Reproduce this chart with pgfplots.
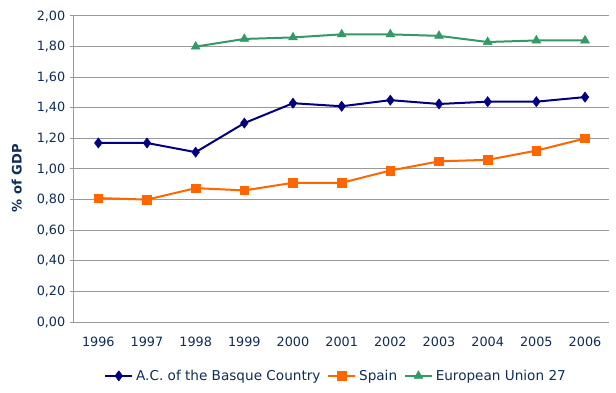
\documentclass[border=0pt]{standalone}
\usepackage{pgfplots}
\pgfplotsset{compat=1.18}
\usepackage{fontspec}
\setmainfont{DejaVu Sans}
\definecolor{txt}{HTML}{0F2D5A}
\definecolor{basque}{HTML}{000080}
\definecolor{spain}{HTML}{FF6600}
\definecolor{eu}{HTML}{339966}
\definecolor{gridc}{HTML}{999999}
\begin{document}
\begin{tikzpicture}
\begin{axis}[
  name=ax,
  scale only axis,
  width=401.5pt, height=229.5pt,
  xmin=-0.5, xmax=10.5,
  ymin=0, ymax=2,
  ytick={0,0.2,...,2.01},
  xtick={0,...,10},
  xticklabels={1996,1997,1998,1999,2000,2001,2002,2003,2004,2005,2006},
  x tick style={draw=none},
  extra x ticks={-0.5,0.5,...,10.6},
  extra x tick labels={},
  extra x tick style={major tick length=3pt, tick style={draw=gridc, line width=0.75pt}, grid=none},
  tick align=outside,
  major tick length=3pt,
  y tick style={draw=gridc, line width=0.75pt},
  axis x line*=bottom, axis y line*=left,
  axis line style={draw=gridc, line width=0.75pt, -},
  ymajorgrids, grid style={draw=gridc, line width=0.75pt},
  tick label style={font=\fontsize{9.6}{11}\selectfont, text=txt},
  /pgf/number format/assume math mode=true,
  yticklabel style={/pgf/number format/.cd, fixed, fixed zerofill, precision=2, use comma},
  xticklabel style={yshift=-5pt},
  ylabel={\textbf{\% of GDP}},
  every axis y label/.style={at={(axis description cs:-0.107,0.47)}, rotate=90, anchor=center,
    font=\fontsize{9.8}{11}\selectfont, text=txt},
  legend style={at={(0.49,-0.176)}, anchor=center, draw=none, legend columns=3,
    font=\fontsize{10.2}{12}\selectfont, text=txt,
    /tikz/every even column/.append style={column sep=3pt}},
  legend image code/.code={
    \draw[#1, mark repeat=2, mark phase=2] plot coordinates {(0cm,0cm) (0.36cm,0cm) (0.72cm,0cm)};},
  clip=false,
]
\addplot[basque, line width=1.5pt, mark=diamond*, mark size=3.8pt, mark options={solid, line width=0.4pt}]
  coordinates {(0,1.17) (1,1.17) (2,1.11) (3,1.30) (4,1.43) (5,1.41) (6,1.45) (7,1.425) (8,1.44) (9,1.44) (10,1.47)};
\addlegendentry{A.C. of the Basque Country}
\addplot[spain, line width=1.5pt, mark=square*, mark size=3.2pt, mark options={solid, line width=0.4pt}]
  coordinates {(0,0.81) (1,0.80) (2,0.875) (3,0.86) (4,0.91) (5,0.91) (6,0.99) (7,1.05) (8,1.06) (9,1.12) (10,1.20)};
\addlegendentry{Spain}
\addplot[eu, line width=1.5pt, mark=triangle*, mark size=3.8pt, mark options={solid, line width=0.4pt}]
  coordinates {(2,1.80) (3,1.85) (4,1.86) (5,1.88) (6,1.88) (7,1.87) (8,1.83) (9,1.84) (10,1.84)};
\addlegendentry{European Union 27}
\end{axis}
\path[use as bounding box] ([xshift=-55.5pt,yshift=-52.5pt]ax.south west) rectangle ([xshift=5pt,yshift=12pt]ax.north east);
\end{tikzpicture}
\end{document}
